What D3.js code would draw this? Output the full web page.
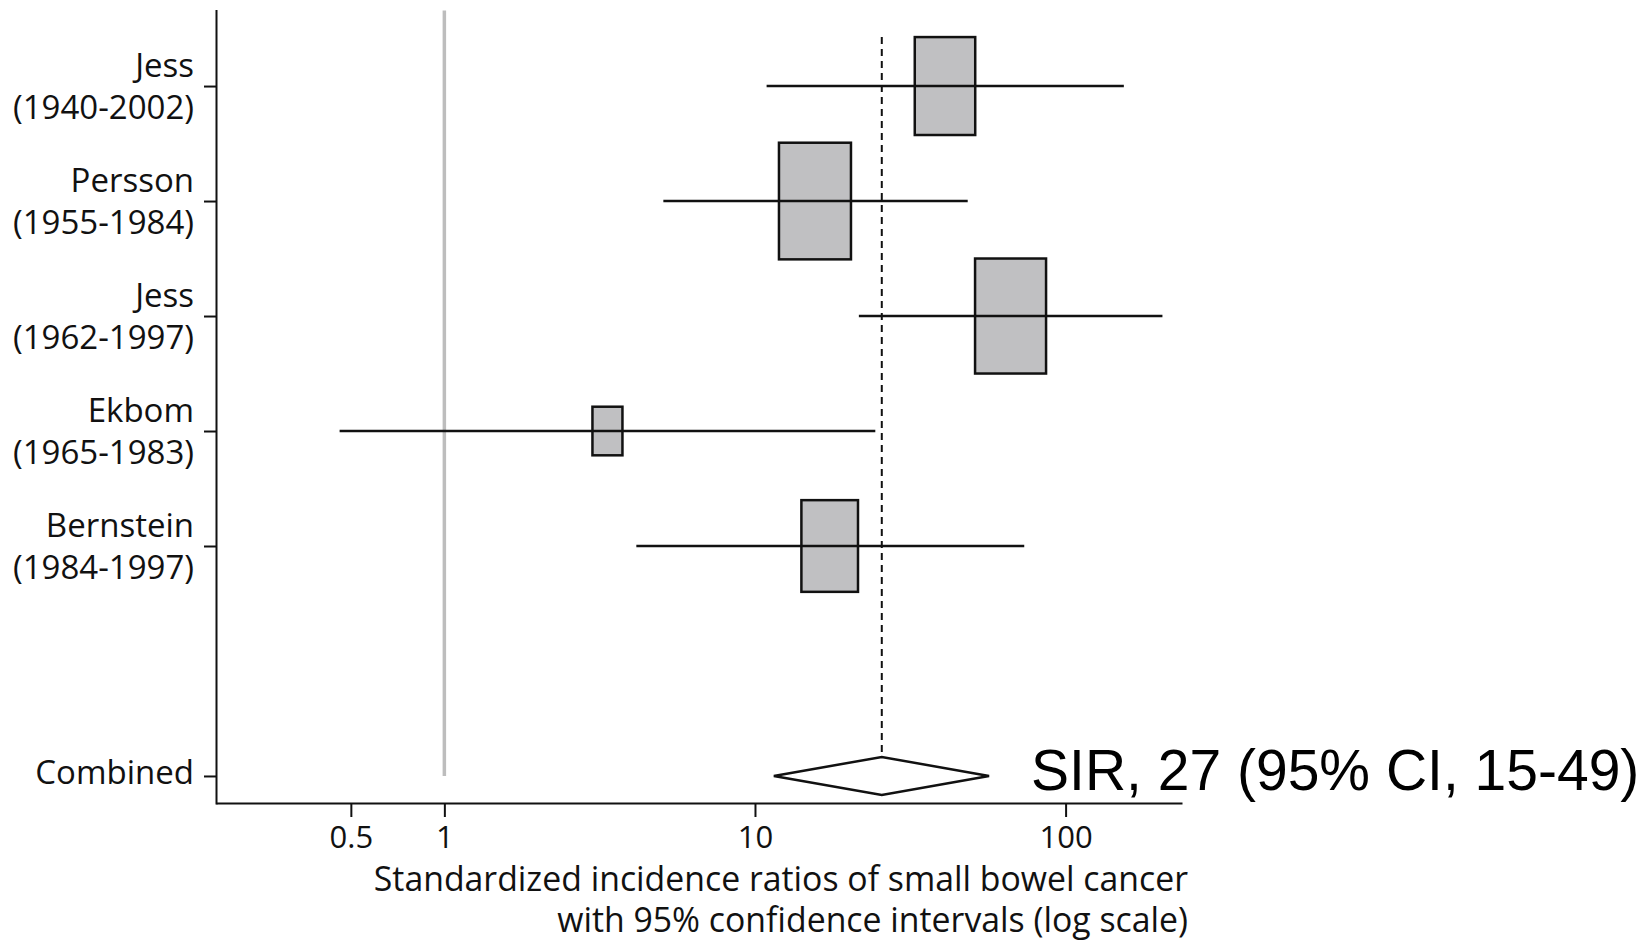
<!DOCTYPE html>
<html>
<head>
<meta charset="utf-8">
<script src="https://cdn.jsdelivr.net/npm/d3@7"></script>
<style>
    body { margin: 0; background: #fff; }
    #chart { width: 1651px; height: 942px; }
    text { font-family: "Open Sans", sans-serif; fill: #111; }
</style>
</head>
<body>
<div id="chart"></div>
<script>
// studies, top to bottom
const studyNames = ["Jess", "Persson", "Jess", "Ekbom", "Bernstein"];
const studyPeriods = ["(1940-2002)", "(1955-1984)", "(1962-1997)", "(1965-1983)", "(1984-1997)"];
const sirValues = [40.9, 15.6, 66.5, 3.35, 17.4];
const ciLow = [10.9, 5.07, 21.6, 0.46, 4.15];
const ciHigh = [154, 48.4, 205, 24.4, 73.6];
const weights = [20.3, 28.8, 28.0, 5.0, 17.8];

// pooled estimate
const combinedLabel = "Combined";
const combinedSir = 25.6;
const combinedLow = 11.5;
const combinedHigh = 56.7;
const annotation = "SIR, 27 (95% CI, 15-49)";

const xTicks = [0.5, 1, 10, 100];
const xTitle = ["Standardized incidence ratios of small bowel cancer",
    "with 95% confidence intervals (log scale)"];

class ForestVis {
    constructor(parentElement) {
        this.parentElement = parentElement;
        this.data = studyNames.map((name, i) => ({
            name: name,
            period: studyPeriods[i],
            row: i,
            sir: sirValues[i],
            low: ciLow[i],
            high: ciHigh[i],
            weight: weights[i]
        }));
        // one empty row before the combined estimate
        this.combinedRow = studyNames.length + 1;

        this.initVis();
    }

    initVis() {
        let vis = this;

        vis.margin = {top: 10.5, right: 469, bottom: 139, left: 216};
        vis.width = 1651 - vis.margin.left - vis.margin.right;
        vis.height = 942 - vis.margin.top - vis.margin.bottom;

        vis.svg = d3.select(vis.parentElement).append("svg")
            .attr("width", 1651)
            .attr("height", 942)
            .append("g")
            .attr("transform", `translate(${vis.margin.left}, ${vis.margin.top})`);

        // log scale for the ratios
        vis.x = d3.scaleLog()
            .domain([0.184, 237])
            .range([0, vis.width]);

        vis.y = d3.scaleLinear()
            .domain([-0.657, 6.235])
            .range([0, vis.height]);

        vis.boxW = d3.scaleSqrt()
            .domain([0, d3.max(weights)])
            .range([0, 72]);
        const boxRatio = 1.62;

        const yc = vis.y(vis.combinedRow);

        // line of no effect
        vis.svg.append("line")
            .attr("x1", vis.x(1))
            .attr("x2", vis.x(1))
            .attr("y1", 0)
            .attr("y2", yc)
            .attr("stroke", "#bdbdbd")
            .attr("stroke-width", 3.5);

        // dashed line at the pooled estimate
        vis.svg.append("line")
            .attr("x1", vis.x(combinedSir))
            .attr("x2", vis.x(combinedSir))
            .attr("y1", vis.y(0) - vis.boxW(weights[0]) * boxRatio / 2)
            .attr("y2", yc - 19)
            .attr("stroke", "#111")
            .attr("stroke-width", 2)
            .attr("stroke-dasharray", "7,5");

        // weight boxes
        vis.svg.selectAll(".box")
            .data(vis.data)
            .enter()
            .append("rect")
            .attr("class", "box")
            .attr("x", d => vis.x(d.sir) - vis.boxW(d.weight) / 2)
            .attr("y", d => vis.y(d.row) - vis.boxW(d.weight) * boxRatio / 2)
            .attr("width", d => vis.boxW(d.weight))
            .attr("height", d => vis.boxW(d.weight) * boxRatio)
            .attr("fill", "#c0c0c2")
            .attr("stroke", "#111")
            .attr("stroke-width", 2.5);

        // confidence intervals
        vis.svg.selectAll(".ci")
            .data(vis.data)
            .enter()
            .append("line")
            .attr("class", "ci")
            .attr("x1", d => vis.x(d.low))
            .attr("x2", d => vis.x(d.high))
            .attr("y1", d => vis.y(d.row))
            .attr("y2", d => vis.y(d.row))
            .attr("stroke", "#111")
            .attr("stroke-width", 2.5);

        // combined diamond
        const diamond = [
            [vis.x(combinedLow), yc],
            [vis.x(combinedSir), yc - 19],
            [vis.x(combinedHigh), yc],
            [vis.x(combinedSir), yc + 19]
        ];
        vis.svg.append("path")
            .attr("d", "M" + diamond.join("L") + "Z")
            .attr("fill", "#fff")
            .attr("stroke", "#111")
            .attr("stroke-width", 2.5);

        vis.svg.append("text")
            .attr("x", vis.x(combinedHigh) + 42)
            .attr("y", yc + 14)
            .style("font-family", "'Liberation Sans', Arial, sans-serif")
            .style("font-size", "57px")
            .style("fill", "#000")
            .text(annotation);

        // x axis
        vis.xAxis = d3.axisBottom(vis.x)
            .tickValues(xTicks)
            .tickFormat(d => d)
            .tickSize(14)
            .tickPadding(9)
            .tickSizeOuter(0);

        const gx = vis.svg.append("g")
            .attr("transform", `translate(0, ${vis.height})`)
            .call(vis.xAxis);
        gx.selectAll("path, line").attr("stroke", "#111").attr("stroke-width", 2);
        gx.selectAll("text").style("font-size", "31px").attr("fill", "#111");

        vis.svg.selectAll(".x-title")
            .data(xTitle)
            .enter()
            .append("text")
            .attr("class", "x-title")
            .attr("x", vis.width + 6)
            .attr("y", (d, i) => vis.height + 88 + i * 41)
            .attr("text-anchor", "end")
            .style("font-size", "33.8px")
            .text(d => d);

        // y axis with two-line study labels
        const rows = vis.data.map(d => d.row).concat([vis.combinedRow]);
        vis.yAxis = d3.axisLeft(vis.y)
            .tickValues(rows)
            .tickFormat("")
            .tickSize(12)
            .tickSizeOuter(0);

        const gy = vis.svg.append("g").call(vis.yAxis);
        gy.selectAll("path, line").attr("stroke", "#111").attr("stroke-width", 2);
        gy.select(".domain").attr("stroke-linecap", "square");

        const labels = gy.selectAll(".tick")
            .append("text")
            .attr("x", -22)
            .attr("text-anchor", "end")
            .style("font-size", "33px")
            .attr("fill", "#111");

        labels.each(function (row) {
            const t = d3.select(this);
            const d = vis.data.find(s => s.row === row);
            if (d) {
                t.append("tspan").attr("x", -22).attr("y", -10).text(d.name);
                t.append("tspan").attr("x", -22).attr("y", 32).text(d.period);
            } else {
                t.attr("y", 8).text(combinedLabel);
            }
        });
    }
}

new ForestVis(document.getElementById("chart"));
</script>
</body>
</html>
